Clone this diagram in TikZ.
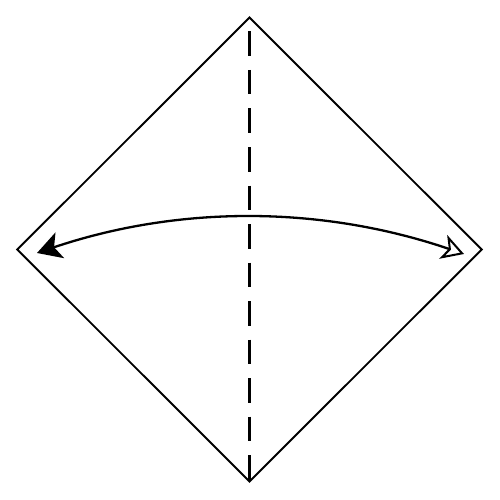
\documentclass[tikz,border=0pt]{standalone}
\usetikzlibrary{arrows.meta}
\begin{document}
\begin{tikzpicture}[x=1pt,y=-1pt,
  paper/.style={line width=1.9pt, line join=miter},
  valley/.style={line width=2.6pt, dash pattern=on 24.5pt off 14pt, dash phase=24.5pt},
  flip/.style={line width=2.3pt}]
\useasboundingbox (0,0) rectangle (500,500);
\coordinate (T) at (249.5,17.5);
\coordinate (R) at (481.7,249.5);
\coordinate (B) at (249.5,481.5);
\coordinate (L) at (17.3,249.5);
\draw[paper] (T) -- (R) -- (B) -- (L) -- cycle;
\draw[valley] (T) -- (B);
\coordinate (AL) at (37,253);
\coordinate (AR) at (464,254);
\coordinate (C1) at (179,205.1);
\coordinate (C2) at (321.3,205.4);
\draw[flip, {Stealth[length=24pt,width=27pt,inset=6pt]}-{Stealth[open,length=22pt,width=25pt,inset=6pt,line width=2pt]}] (AL) .. controls (C1) and (C2) .. (AR);
\end{tikzpicture}
\end{document}
